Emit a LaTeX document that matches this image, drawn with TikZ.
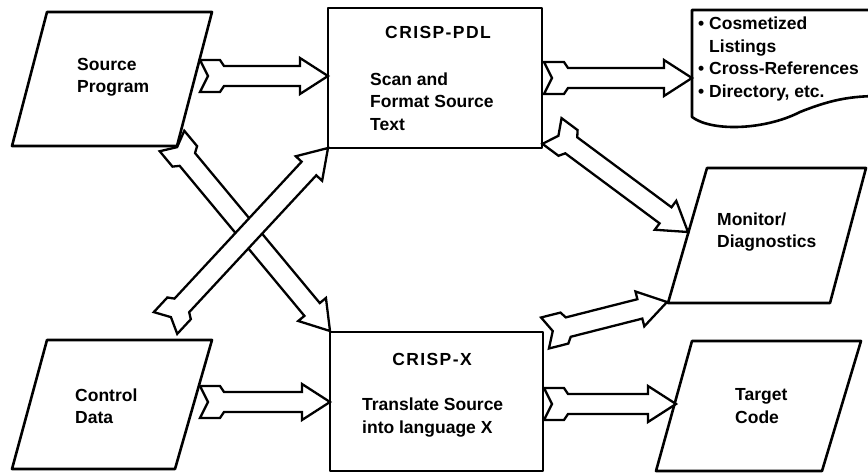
\documentclass[tikz,border=0pt]{standalone}
\usepackage{fontspec}
\setmainfont{Liberation Sans}
\usetikzlibrary{calc}
% fat arrow with notched, flanged tail: #1 = tail coordinate, #2 = tip coordinate
\newcommand\fatarrow[2]{%
  \draw[fatarr]
    ($(#1)!16pt!90:(#2)$)
    -- ($(#1)!20pt!(#2)!16pt!90:(#2)$)
    -- ($(#1)!24pt!(#2)!10pt!90:(#2)$)
    -- ($(#2)!28pt!(#1)!10pt!-90:(#1)$)
    -- ($(#2)!28pt!(#1)!18pt!-90:(#1)$)
    -- (#2)
    -- ($(#2)!28pt!(#1)!18pt!90:(#1)$)
    -- ($(#2)!28pt!(#1)!10pt!90:(#1)$)
    -- ($(#1)!24pt!(#2)!10pt!-90:(#2)$)
    -- ($(#1)!20pt!(#2)!16pt!-90:(#2)$)
    -- ($(#1)!16pt!-90:(#2)$)
    -- ($(#1)!8pt!(#2)$)
    -- cycle;}
\begin{document}
\begin{tikzpicture}[x=1pt,y=-1pt,
  box/.style={line width=2.6pt, line join=round},
  fatarr/.style={line width=2.3pt, fill=white, line join=miter},
  lbl/.style={font=\fontsize{17.5}{22.5}\selectfont\bfseries, align=left, inner sep=0pt, anchor=west},
  ttl/.style={font=\fontsize{17.5}{22.5}\selectfont\bfseries\addfontfeature{LetterSpace=8}, inner sep=0pt, anchor=center}]
\useasboundingbox (0,0) rectangle (868,474);
\fill[white] (0,0) rectangle (868,474);
\begin{scope}
\clip (0,0) rectangle (868,474);
% ---- boxes ----
\draw[box] (47,12) -- (212,12) -- (177,146) -- (12,146) -- cycle;      % source program
\draw[box] (47,340) -- (212,340) -- (175,469) -- (12,469) -- cycle;    % control data
\draw[box] (328,8) rectangle (542,148);                                % CRISP-PDL
\draw[box] (330,332) rectangle (543,471);                              % CRISP-X
\draw[box] (707,168) -- (866,168) -- (830,303) -- (668,303) -- cycle;  % monitor
\draw[box] (692,341) -- (861,341) -- (822,471) -- (656,471) -- cycle;  % target code
\draw[box] (880,10) -- (692,10) -- (692,117)
   .. controls (712,132) and (765,130) .. (800,112)
   .. controls (830,100) and (850,96) .. (880,96);                     % listings document
% ---- arrow end points ----
\coordinate (srcOut) at (200,76);    \coordinate (pdlIn)  at (328,76);
\coordinate (pdlOut) at (544,78);    \coordinate (lstIn)  at (692,78);
\coordinate (ctlOut) at (200,402);   \coordinate (xIn)    at (330,402);
\coordinate (xOut)   at (544,404);   \coordinate (tgtIn)  at (676,404);
\coordinate (xMon)   at (545,333);   \coordinate (monInB) at (667,302);
\coordinate (pdlMon) at (552,131);   \coordinate (monInA) at (688,232);
\coordinate (srcX)   at (172,141);   \coordinate (xCorner) at (330,331);
\coordinate (ctlPdl) at (165.5,323); \coordinate (pdlCorner) at (328,148);
% ---- arrows ----
\fatarrow{srcOut}{pdlIn}
\fatarrow{pdlOut}{lstIn}
\fatarrow{ctlOut}{xIn}
\fatarrow{xOut}{tgtIn}
\fatarrow{xMon}{monInB}
\fatarrow{pdlMon}{monInA}
\fatarrow{srcX}{xCorner}
\fatarrow{ctlPdl}{pdlCorner}
\end{scope}
% ---- texts ----
\node[lbl] (srcT) at (77,77) {Source\\Program};
\node[ttl] (pdlT) at (438,32) {CRISP-PDL};
\node[lbl] (pdlD) at (370,101.5) {Scan and\\Format Source\\Text};
\node[lbl] (lstT) at (698,59) {\textbullet\ Cosmetized\\\phantom{\textbullet\ }Listings\\\textbullet\ Cross-References\\\textbullet\ Directory, etc.};
\node[lbl] (monT) at (717,232) {Monitor/\\Diagnostics};
\node[ttl] (xT) at (432,359) {CRISP-X};
\node[lbl] (xD) at (362,417.5) {Translate Source\\into language X};
\node[lbl] (ctlT) at (75,406) {Control\\Data};
\node[lbl] (tgtT) at (735,406) {Target\\Code};
\end{tikzpicture}
\end{document}
